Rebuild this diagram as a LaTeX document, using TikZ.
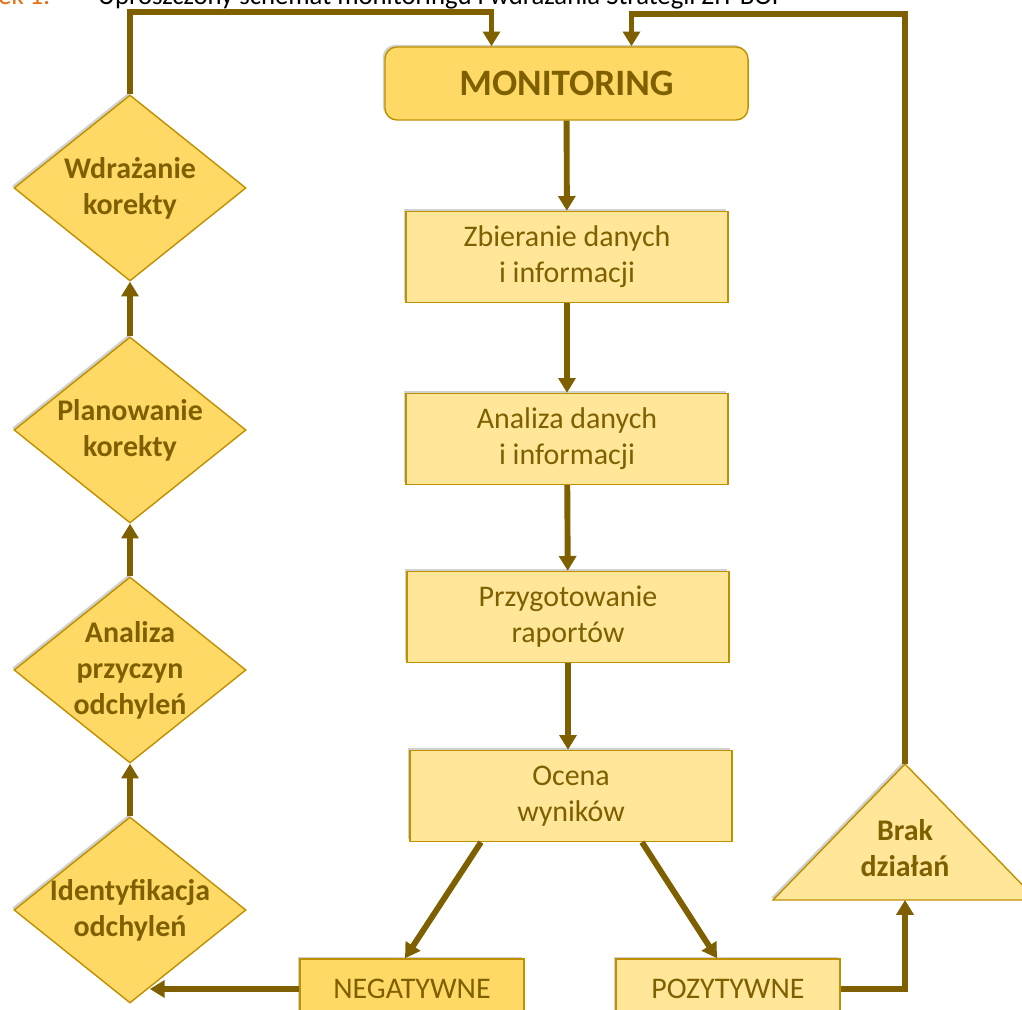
\documentclass[tikz,border=0pt]{standalone}
\usepackage{fontspec}
\setmainfont{Carlito}
\usetikzlibrary{shapes.geometric,arrows.meta,calc,shadows}
\definecolor{zitgold}{HTML}{FFD966}
\definecolor{zitlight}{HTML}{FFE699}
\definecolor{zitedge}{HTML}{BF9000}
\definecolor{zitbrown}{HTML}{7F6000}
\definecolor{zitorange}{HTML}{E46C0A}

\begin{document}
\begin{tikzpicture}
[
    x = 0.025cm, y = -0.025cm,
    every node/.style = {text = zitbrown, align = center, font = \fontsize{21.3}{25.5}\selectfont},
    cien/.style = {drop shadow = {shadow xshift = -1.5pt, shadow yshift = 1.5pt, opacity = .18, fill = black}},
    glowny/.style = {draw = zitedge, line width = 1pt, fill = zitgold, rounded corners = 0.3cm, minimum width = 9.075cm, minimum height = 1.825cm, font = \fontsize{26.5}{30}\selectfont\bfseries, cien},
    krok/.style = {draw = zitedge, line width = 1pt, fill = zitlight, minimum width = 8.05cm, minimum height = 2.275cm, cien},
    romb/.style = {diamond, draw = zitedge, line width = 1pt, fill = zitgold, minimum width = 5.8cm, minimum height = 4.65cm, inner sep = -10pt, font = \fontsize{21.3}{25.5}\selectfont\bfseries, cien},
    wynik/.style = {draw = zitedge, line width = 1pt, minimum width = 5.6cm, minimum height = 1.5cm, cien},
    strz/.style = {draw = zitbrown, line width = 4.2pt, -{Triangle[width = 12pt, length = 10.5pt]}}
]
\useasboundingbox (0,0) rectangle (1022,1010);

% podpis (uciety u gory)
\node[anchor = base east, text = zitorange, font = \fontsize{19}{22}\selectfont] (podpisnr) at (55,5) {Rysunek 1.};
\node[anchor = base west, text = black, font = \fontsize{19}{22}\selectfont] (podpis) at (93,5) {Uproszczony schemat monitoringu i wdrażania Strategii ZIT BOF};

% kolumna srodkowa
\node[glowny] (mon) at (566.5,83.5) {MONITORING};
\node[krok] (zbi) at (567,257) {Zbieranie danych\\i informacji};
\node[krok] (ana) at (567,439) {Analiza danych\\i informacji};
\node[krok] (prz) at (568,617) {Przygotowanie\\raportów};
\node[krok] (oce) at (571,796) {Ocena\\wyników};
\node[wynik, fill = zitgold] (neg) at (412,989) {NEGATYWNE};
\node[wynik, fill = zitlight] (poz) at (728,989) {POZYTYWNE};

% kolumna lewa
\node[romb] (wdr) at (130,188) {Wdrażanie\\korekty};
\node[romb] (pla) at (130,430) {Planowanie\\korekty};
\node[romb] (apr) at (130,670) {Analiza\\przyczyn\\odchyleń};
\node[romb] (idt) at (130,910) {Identyfikacja\\odchyleń};

% trojkat
\coordinate (brakTop) at (905,764);
\coordinate (brakBase) at (905,900);
\filldraw[draw = zitedge, line width = 1pt, fill = zitlight, cien] (brakTop) -- (1037,900) -- (773,900) -- cycle;
\node[font = \fontsize{21.3}{25.5}\selectfont\bfseries] (brak) at (905,848) {Brak\\działań};

\coordinate (topL) at (0,12);
\coordinate (topR) at (0,14);
\coordinate (idtIn) at ($(idt.south)!.17!(idt.east)$);

% strzalki
\draw[strz] (mon) -- (zbi);
\draw[strz] (zbi) -- (ana);
\draw[strz] (ana) -- (prz);
\draw[strz] (prz.south) -- (prz.south |- oce.north);
\draw[strz] ($(oce.south)+(-90,0)$) -- ($(neg.north)+(-7,0)$);
\draw[strz] ($(oce.south)+(71,0)$) -- ($(poz.north)+(-11,0)$);
\draw[strz] (neg.west) -- (idtIn |- neg.west);
\draw[strz] (poz.east) -| (brakBase);
\draw[strz] (idt.north) -- (apr.south);
\draw[strz] (apr.north) -- (pla.south);
\draw[strz] (pla.north) -- (wdr.south);
\draw[strz] (wdr.north) -- (wdr.north |- topL) -| ($(mon.north)+(-75,0)$);
\draw[strz] (brakTop) -- (brakTop |- topR) -| ($(mon.north)+(65,0)$);
\end{tikzpicture}
\end{document}
